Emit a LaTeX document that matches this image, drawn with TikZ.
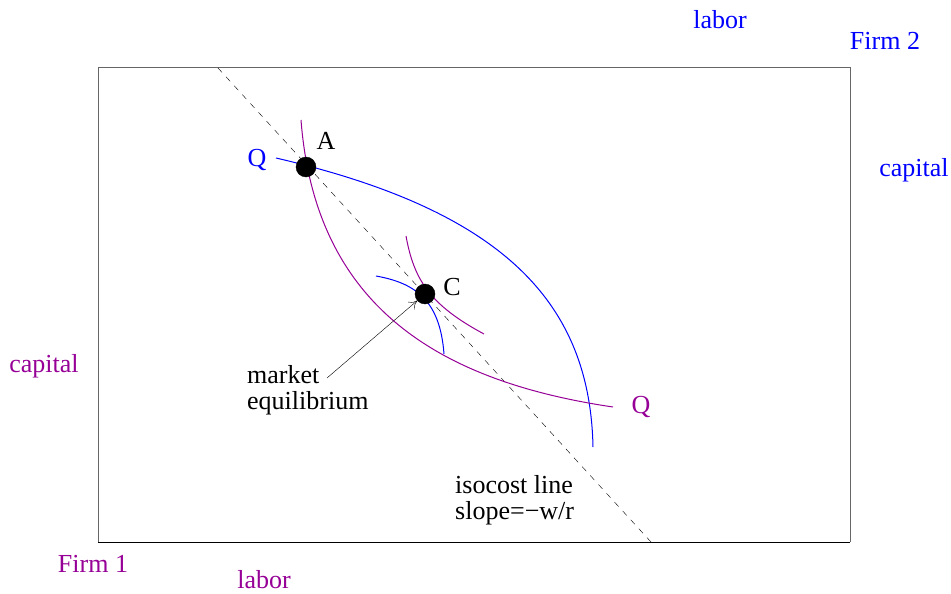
\documentclass[tikz,border=0pt]{standalone}
\usepackage{fontspec}
\setmainfont{Liberation Serif}
\usepackage{xcolor}
\usepackage{tikz}
\usetikzlibrary{arrows.meta, positioning, calc}
\definecolor{firmone}{RGB}{150,0,150}
\definecolor{firmtwo}{RGB}{0,0,255}

\begin{document}
\begin{tikzpicture}[x=1pt, y=-1pt,
    lbl/.style={inner sep=0pt, font=\fontsize{26}{26}\selectfont},
    dot/.style={draw, fill=black, circle, minimum size=20pt, inner sep=0pt},
    curve/.style={line width=1pt}]
    \useasboundingbox (0,0) rectangle (951,594);

    % Edgeworth box
    \draw[line width=1pt, black!60] (98,542) -- (98,68) -- (850,68) -- (850,542);
    \draw[line width=1pt] (98,542) -- (850,542);

    % isocost line
    \draw[dashed, dash pattern=on 6pt off 6pt] (218,68) -- (651,542);

    % isoquants
    \draw[curve, firmtwo] (276,158) .. controls (500,210) and (590,300) .. (593,447);
    \draw[curve, firmone] (301,120) .. controls (315,300) and (430,380) .. (613,407);
    \draw[curve, firmone] (406,236) .. controls (414,280) and (430,305) .. (484,334);
    \draw[curve, firmtwo] (376,276) .. controls (415,283) and (440,300) .. (444,354);

    % points
    \node[dot] (A) at (306,167) {};
    \node[dot] (C) at (425,294) {};
    \node[lbl] (Alabel) at (326,141) {A};
    \node[lbl] (Clabel) at (452,287) {C};
    \node[lbl, firmtwo] (Q2) at (257,160) {Q};
    \node[lbl, firmone] (Q1) at (641,407) {Q};

    % market equilibrium
    \node[lbl, anchor=west, align=left] (eq) at (247,390) {market\\equilibrium};
    \coordinate (eqtail) at (327,378);
    \draw[-{To[length=8pt, width=10pt]}] (eqtail) -- (C);

    \node[lbl, anchor=west, align=left] (iso) at (455,500) {isocost line\\slope=\textminus w/r};

    % axes labels
    \node[lbl, firmtwo] (labor2) at (720,20) {labor};
    \node[lbl, firmtwo] (firm2) at (885,41) {Firm 2};
    \node[lbl, firmtwo] (capital2) at (914,170) {capital};
    \node[lbl, firmone] (capital1) at (44,366) {capital};
    \node[lbl, firmone] (firm1) at (93,564) {Firm 1};
    \node[lbl, firmone] (labor1) at (264,580) {labor};
\end{tikzpicture}
\end{document}
